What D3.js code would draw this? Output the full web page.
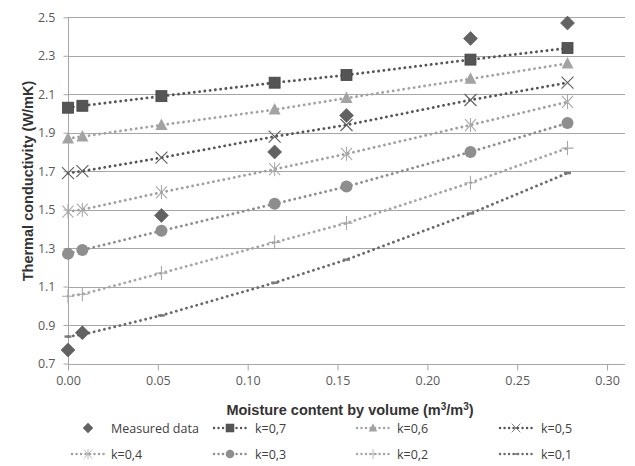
<!DOCTYPE html>
<html><head><meta charset="utf-8">
<script src="https://cdn.jsdelivr.net/npm/d3@7"></script>
<style>body{margin:0;background:#fff}svg{display:block}</style>
</head><body>
<svg id="c" width="635" height="466"></svg>
<script>
const moisture = [0, 0.008, 0.052, 0.115, 0.155, 0.224, 0.278];
const measured = [0.77, 0.86, 1.47, 1.80, 1.99, 2.39, 2.47];
const k07 = [2.03, 2.04, 2.09, 2.16, 2.20, 2.28, 2.34];
const k06 = [1.87, 1.88, 1.94, 2.02, 2.08, 2.18, 2.26];
const k05 = [1.69, 1.70, 1.77, 1.88, 1.94, 2.07, 2.16];
const k04 = [1.49, 1.50, 1.59, 1.71, 1.79, 1.94, 2.06];
const k03 = [1.27, 1.29, 1.39, 1.53, 1.62, 1.80, 1.95];
const k02 = [1.05, 1.06, 1.17, 1.33, 1.43, 1.64, 1.82];
const k01 = [0.84, 0.85, 0.95, 1.12, 1.24, 1.48, 1.69];
const xTicks = [0, 0.05, 0.10, 0.15, 0.20, 0.25, 0.30];
const yTicks = [0.7, 0.9, 1.1, 1.3, 1.5, 1.7, 1.9, 2.1, 2.3, 2.5];
const seriesNames = ["Measured data","k=0,7","k=0,6","k=0,5","k=0,4","k=0,3","k=0,2","k=0,1"];

const series = [
  {name: seriesNames[0], values: measured, marker: "diamond", color: "#626262", line: false},
  {name: seriesNames[1], values: k07, marker: "square", color: "#555555", line: true, lc: "#555555"},
  {name: seriesNames[2], values: k06, marker: "triangle", color: "#a3a3a3", line: true, lc: "#a3a3a3"},
  {name: seriesNames[3], values: k05, marker: "x", color: "#5e5e5e", line: true, lc: "#555555"},
  {name: seriesNames[4], values: k04, marker: "star", color: "#a8a8a8", line: true, lc: "#a0a0a0"},
  {name: seriesNames[5], values: k03, marker: "circle", color: "#8e8e8e", line: true, lc: "#8e8e8e"},
  {name: seriesNames[6], values: k02, marker: "plus", color: "#a8a8a8", line: true, lc: "#a6a6a6"},
  {name: seriesNames[7], values: k01, marker: "dash", color: "#7a7a7a", line: true, lc: "#6a6a6a"}
];

const svg = d3.select("#c");
const x = d3.scaleLinear().domain([0, 0.31]).range([68, 625]);
const y = d3.scaleLinear().domain([0.7, 2.5]).range([363.5, 17.3]);

// gridlines
svg.append("g").selectAll("line").data(yTicks.slice(1)).join("line")
  .attr("x1", x(0)).attr("x2", x(0.31))
  .attr("y1", d => Math.round(y(d)) + 0.5).attr("y2", d => Math.round(y(d)) + 0.5)
  .attr("stroke", "#a6a6a6").attr("stroke-width", 1);

// x axis
const xAxis = d3.axisBottom(x).tickValues(xTicks).tickFormat(d3.format(".2f")).tickSize(6).tickPadding(6);
const gx = svg.append("g").attr("transform", `translate(0,${Math.round(y(0.7)) + 0.5})`).call(xAxis);
gx.select(".domain").attr("stroke", "#a6a6a6").attr("d", `M${x(0)},0H${x(0.31)}`);
gx.selectAll(".tick line").attr("stroke", "#a6a6a6");
gx.selectAll("text").attr("fill", "#595959").style("font", "12.5px 'Open Sans', sans-serif");

// y axis
const yAxis = d3.axisLeft(y).tickValues(yTicks).tickFormat(d3.format(".1f")).tickSize(5).tickPadding(8);
const gy = svg.append("g").attr("transform", `translate(${Math.round(x(0)) + 0.5},0)`).call(yAxis);
gy.select(".domain").attr("stroke", "#a6a6a6").attr("d", `M0,${y(2.5)}V${y(0.7) + 6}`);
gy.selectAll(".tick line").attr("stroke", "#a6a6a6");
gy.selectAll("text").attr("fill", "#595959").style("font", "12.5px 'Open Sans', sans-serif");

// axis titles
svg.append("text").attr("x", 350).attr("y", 415).attr("text-anchor", "middle")
  .style("font", "bold 14.5px 'Liberation Sans', Arial, sans-serif").attr("fill", "#333")
  .html('Moisture content by volume (m<tspan dy="-5" font-size="10">3</tspan><tspan dy="5">/m</tspan><tspan dy="-5" font-size="10">3</tspan><tspan dy="5">)</tspan>');
svg.append("text").attr("transform", "translate(33,181) rotate(-90)").attr("text-anchor", "middle")
  .style("font", "bold 14.5px 'Liberation Sans', Arial, sans-serif").attr("fill", "#333")
  .text("Thermal conductivity  (W/mK)");

function drawMarker(g, type, color, cx, cy) {
  if (type === "diamond") {
    g.append("path").attr("d", `M${cx},${cy-7}L${cx+7},${cy}L${cx},${cy+7}L${cx-7},${cy}Z`).attr("fill", color).attr("stroke", "#555").attr("stroke-width", 0.6);
  } else if (type === "square") {
    g.append("rect").attr("x", cx-5.5).attr("y", cy-5.5).attr("width", 11).attr("height", 11).attr("fill", color).attr("stroke", "#444").attr("stroke-width", 0.8);
  } else if (type === "triangle") {
    g.append("path").attr("d", `M${cx},${cy-6.5}L${cx+6},${cy+5}L${cx-6},${cy+5}Z`).attr("fill", color);
  } else if (type === "x") {
    g.append("path").attr("d", `M${cx-6},${cy-6}L${cx+6},${cy+6}M${cx+6},${cy-6}L${cx-6},${cy+6}`).attr("stroke", color).attr("stroke-width", 1.1).attr("fill", "none");
  } else if (type === "star") {
    g.append("path").attr("d", `M${cx-5.5},${cy-6}L${cx+5.5},${cy+6}M${cx+5.5},${cy-6}L${cx-5.5},${cy+6}M${cx},${cy-7}L${cx},${cy+7}`).attr("stroke", color).attr("stroke-width", 1.1).attr("fill", "none");
  } else if (type === "circle") {
    g.append("circle").attr("cx", cx).attr("cy", cy).attr("r", 6).attr("fill", color);
  } else if (type === "plus") {
    g.append("path").attr("d", `M${cx-6},${cy}L${cx+6},${cy}M${cx},${cy-7}L${cx},${cy+7}`).attr("stroke", color).attr("stroke-width", 1.1).attr("fill", "none");
  } else if (type === "dash") {
    g.append("rect").attr("x", cx-3.5).attr("y", cy-1.2).attr("width", 7).attr("height", 2.4).attr("fill", color);
  }
}

const line = d3.line().x(d => x(d[0])).y(d => y(d[1]));
const plot = svg.append("g");
series.forEach(s => {
  const pts = moisture.map((m, i) => [m, s.values[i]]);
  if (s.line) {
    plot.append("path").attr("d", line(pts)).attr("fill", "none").attr("stroke", s.lc)
      .attr("stroke-width", 2.8).attr("stroke-linecap", "round").attr("stroke-dasharray", "0.1 5.2");
  }
});
series.slice().reverse().forEach(s => {
  const g = plot.append("g");
  moisture.forEach((m, i) => drawMarker(g, s.marker, s.color, x(m), y(s.values[i])));
});

// legend
const colSym = [88, 230, 373, 516];
const colTxt = [111, 255, 397, 541];
const rows = [428, 454];
series.forEach((s, i) => {
  const r = Math.floor(i / 4), c = i % 4;
  const g = svg.append("g");
  const cy = rows[r];
  if (s.line) {
    g.append("line").attr("x1", colSym[c] - 16).attr("x2", colSym[c] + 16).attr("y1", cy).attr("y2", cy)
      .attr("stroke", s.lc).attr("stroke-width", 2.4).attr("stroke-linecap", "round").attr("stroke-dasharray", "0.1 4.4");
  }
  const g2 = g.append("g").attr("transform", `translate(${colSym[c]},${cy}) scale(0.72) translate(${-colSym[c]},${-cy})`);
  drawMarker(g2, s.marker, s.color, colSym[c], cy);
  g.append("text").attr("x", colTxt[c]).attr("y", cy + 4.5).attr("fill", "#404040")
    .style("font", "12.5px 'Open Sans', sans-serif").text(s.name);
});
</script>
</body></html>
